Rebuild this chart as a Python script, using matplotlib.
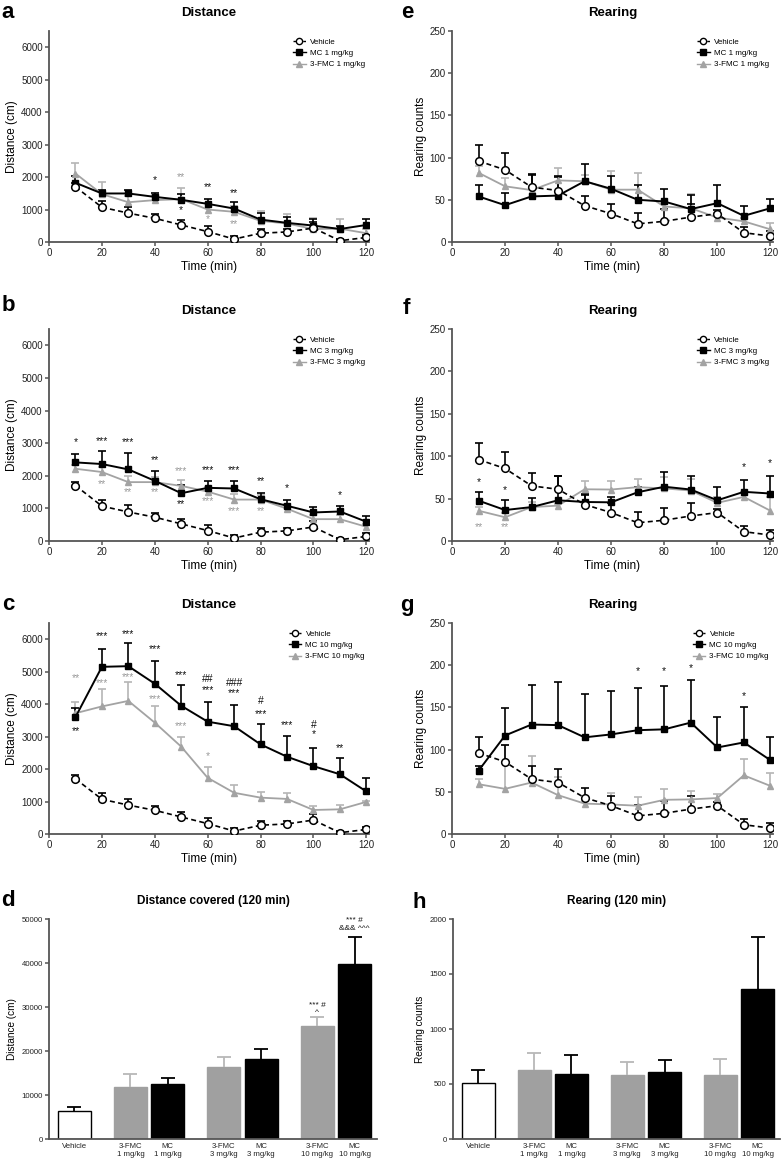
import numpy as np
import matplotlib
matplotlib.use("Agg")
import matplotlib.pyplot as plt
from matplotlib.lines import Line2D

plt.rcParams['font.family'] = ['Liberation Sans', 'DejaVu Sans']

# ---------------- data ----------------
time = [10, 20, 30, 40, 50, 60, 70, 80, 90, 100, 110, 120]

veh_dist = [1700, 1070, 890, 730, 525, 320, 90, 270, 310, 430, 40, 140]
veh_dist_err = [120, 190, 200, 140, 145, 185, 85, 130, 90, 190, 60, 90]

mc1_dist = [1825, 1495, 1495, 1390, 1300, 1175, 1030, 690, 590, 505, 400, 525]
mc1_dist_err = [215, 100, 115, 115, 175, 155, 195, 195, 170, 205, 100, 175]
fmc1_dist = [2110, 1475, 1225, 1290, 1320, 1000, 930, 650, 570, 400, 410, 270]
fmc1_dist_err = [320, 380, 195, 150, 330, 195, 185, 320, 305, 330, 290, 130]

mc3_dist = [2410, 2360, 2195, 1845, 1465, 1630, 1610, 1280, 1080, 875, 905, 590]
mc3_dist_err = [260, 390, 505, 300, 265, 205, 225, 185, 180, 155, 175, 170]
fmc3_dist = [2215, 2115, 1805, 1805, 1690, 1515, 1270, 1270, 990, 670, 670, 435]
fmc3_dist_err = [125, 165, 195, 155, 185, 135, 175, 140, 135, 125, 125, 100]

mc10_dist = [3600, 5150, 5170, 4630, 3950, 3460, 3320, 2760, 2380, 2090, 1840, 1310]
mc10_dist_err = [280, 550, 700, 690, 630, 600, 650, 630, 630, 560, 490, 420]
fmc10_dist = [3720, 3930, 4100, 3430, 2690, 1730, 1270, 1120, 1080, 740, 760, 990]
fmc10_dist_err = [360, 530, 590, 500, 310, 320, 230, 160, 180, 130, 140, 20]

veh_rear = [96, 85.5, 65, 61, 43, 33.5, 21.5, 24.5, 29.5, 33.5, 11, 7]
veh_rear_err = [19, 20, 15, 16, 12, 11, 13, 15, 15, 4, 6.5, 5.5]

mc1_rear = [54, 43.6, 54, 55, 72, 63, 50, 48, 39, 46, 31, 40]
mc1_rear_err = [13, 14.4, 25, 23, 20, 15, 17, 15, 17, 22, 12, 11]
fmc1_rear = [82, 66, 61.5, 73, 72, 62, 62, 42, 40, 29, 24.5, 15]
fmc1_rear_err = [8, 10, 4.5, 15, 7, 22.5, 20, 7, 17, 5, 3.5, 7.5]

mc3_rear = [47.6, 36.5, 40, 48, 46, 45.6, 57.5, 64, 60.7, 48, 58, 56]
mc3_rear_err = [10.4, 12, 10.4, 29, 8, 6.4, 6.5, 17, 16.3, 16, 14, 21]
fmc3_rear = [35.7, 28, 40, 41.7, 61, 60.7, 63.5, 62, 59.5, 45, 52, 35.7]
fmc3_rear_err = [4.3, 4.5, 6, 2.3, 10, 10, 9.5, 13, 13.5, 7, 6, 16]

mc10_rear = [75, 116.7, 129.7, 129, 114.5, 118, 123, 124, 132, 102.5, 108.5, 87.5]
mc10_rear_err = [6, 33, 47, 51.6, 51, 52, 50.5, 51.5, 51, 36, 41.5, 28]
fmc10_rear = [59, 53.5, 61, 46, 36, 35, 33.5, 40.5, 41, 42.6, 69.5, 57]
fmc10_rear_err = [6, 52, 31, 22, 3, 13, 10.5, 12.5, 10.5, 4.5, 19, 15.5]

bar_labels = ["Vehicle", "3-FMC\n1 mg/kg", "MC\n1 mg/kg", "3-FMC\n3 mg/kg",
              "MC\n3 mg/kg", "3-FMC\n10 mg/kg", "MC\n10 mg/kg"]
bar_groups = ["veh", "fmc", "mc", "fmc", "mc", "fmc", "mc"]
dist_total = [6450, 11900, 12440, 16390, 18290, 25570, 39680]
dist_total_err = [900, 2800, 1360, 2200, 2120, 2130, 6300]
rear_total = [513, 628, 595, 586, 607, 580, 1366]
rear_total_err = [118, 158, 167, 112, 112, 145, 470]

# significance annotations: (time, y, text, group)
ann_a = [(40, 1900, "*", "mc"), (50, 2000, "**", "fmc"), (50, 980, "*", "mc"),
         (60, 1690, "**", "mc"), (60, 710, "*", "fmc"),
         (70, 1500, "**", "mc"), (70, 560, "**", "fmc")]
ann_b = [(10, 3040, "*", "mc"), (20, 3070, "***", "mc"), (30, 3020, "***", "mc"),
         (40, 2475, "**", "mc"), (50, 2155, "***", "fmc"), (50, 1135, "**", "mc"),
         (60, 2165, "***", "mc"), (60, 1225, "***", "fmc"),
         (70, 2165, "***", "mc"), (70, 920, "***", "fmc"),
         (80, 1845, "**", "mc"), (80, 920, "**", "fmc"),
         (90, 1620, "*", "mc"), (110, 1410, "*", "mc"),
         (20, 1740, "**", "fmc"), (30, 1505, "**", "fmc"), (40, 1505, "**", "fmc")]
ann_c = [(10, 4790, "**", "fmc"), (10, 3180, "**", "mc"),
         (20, 6090, "***", "mc"), (20, 4640, "***", "fmc"),
         (30, 6150, "***", "mc"), (30, 4840, "***", "fmc"),
         (40, 5690, "***", "mc"), (40, 4170, "***", "fmc"),
         (50, 4890, "***", "mc"), (50, 3330, "***", "fmc"),
         (60, 4760, "##", "mc"), (60, 4430, "***", "mc"), (60, 2410, "*", "fmc"),
         (70, 4660, "###", "mc"), (70, 4330, "***", "mc"),
         (80, 4100, "#", "mc"), (80, 3680, "***", "mc"),
         (90, 3370, "***", "mc"),
         (100, 3370, "#", "mc"), (100, 3070, "*", "mc"),
         (110, 2660, "**", "mc")]
ann_f = [(10, 70, "*", "mc"), (20, 60, "*", "mc"), (10, 17, "**", "fmc"),
         (20, 16, "**", "fmc"), (110, 87, "*", "mc"), (120, 92, "*", "mc")]
ann_g = [(70, 193, "*", "mc"), (80, 193, "*", "mc"), (90, 196, "*", "mc"),
         (110, 164, "*", "mc")]
ann_d = [(5, 30400, "*** #"), (5, 28700, "^"), (6, 49600, "*** #"), (6, 47900, "&&& ^^^")]

GRAY = '#a3a3a3'
GRAY_ERR = '#b5b5b5'
SPINE = '#555555'
ann_col = {"mc": "#111111", "fmc": "#9a9a9a"}

W, H = 784, 1162
fig = plt.figure(figsize=(W / 100, H / 100), dpi=100)


def rect(l, r, b, t):
    return [l / W, 1 - b / H, (r - l) / W, (b - t) / H]


def style(ax, tick_fs=7):
    for s in ['top', 'right']:
        ax.spines[s].set_visible(False)
    for s in ['left', 'bottom']:
        ax.spines[s].set_color(SPINE)
        ax.spines[s].set_linewidth(1.3)
    ax.tick_params(direction='out', length=3, width=1.1, color=SPINE,
                   labelsize=tick_fs, pad=1.5, labelcolor='#222222')


def upper_err(ax, x, y, e, color, lw=1.2, cap=3.0):
    eb = ax.errorbar(x, y, yerr=[np.zeros(len(e)), e], fmt='none', ecolor=color,
                     elinewidth=lw, capsize=cap, capthick=lw, zorder=2)
    eb[1][0].set_visible(False)
    return eb


def line_panel(ax, mc, mce, fmc, fmce, veh, vehe, ylim, yticks, ylabel, dose,
               title, letter, ann):
    upper_err(ax, time, fmc, fmce, GRAY_ERR)
    upper_err(ax, time, mc, mce, 'black')
    upper_err(ax, time, veh, vehe, 'black')
    ax.plot(time, fmc, color=GRAY, lw=1.3, marker='^', ms=5.0, mfc=GRAY,
            mec=GRAY, zorder=3)
    ax.plot(time, mc, color='black', lw=1.4, marker='s', ms=5, zorder=4)
    ax.plot(time, veh, color='black', lw=1.2, ls=(0, (3, 2)), marker='o', ms=5.5,
            mfc='white', mec='black', mew=1.1, zorder=5)
    ax.set_xlim(0, 121)
    ax.set_ylim(*ylim)
    ax.set_xticks([0, 20, 40, 60, 80, 100, 120])
    ax.set_yticks(yticks)
    ax.set_xlabel("Time (min)", fontsize=8.5, labelpad=2)
    ax.set_ylabel(ylabel, fontsize=8.5, labelpad=2)
    ax.set_title(title, fontsize=9.5, fontweight='bold', pad=11)
    style(ax)
    handles = [
        Line2D([], [], color='black', ls=(0, (2, 1.5)), lw=1.0, marker='o', ms=4.5,
               mfc='white', mec='black'),
        Line2D([], [], color='black', lw=1.0, marker='s', ms=4.2),
        Line2D([], [], color=GRAY, lw=1.0, marker='^', ms=4.5, mec=GRAY, mfc=GRAY),
    ]
    ax.legend(handles, ["Vehicle", f"MC {dose} mg/kg", f"3-FMC {dose} mg/kg"],
              loc='upper right', fontsize=5.8, frameon=False, handlelength=1.6,
              handletextpad=0.5, labelspacing=0.45, borderaxespad=0.1,
              bbox_to_anchor=(1.0, 0.985))
    for (t, yv, txt, g) in ann:
        ax.text(t, yv, txt, color=ann_col[g], fontsize=7.5, ha='center',
                va='center', zorder=6)
    return ax


panels_left = [
    (rect(49, 369, 242, 31), mc1_dist, mc1_dist_err, fmc1_dist, fmc1_dist_err, 1, 'a', ann_a, (8, 12)),
    (rect(49, 369, 541, 329), mc3_dist, mc3_dist_err, fmc3_dist, fmc3_dist_err, 3, 'b', ann_b, (8, 305)),
    (rect(49, 369, 834, 623), mc10_dist, mc10_dist_err, fmc10_dist, fmc10_dist_err, 10, 'c', ann_c, (8, 605)),
]
for (r, mc, mce, fm, fme, dose, letter, ann, lp) in panels_left:
    ax = fig.add_axes(r)
    line_panel(ax, mc, mce, fm, fme, veh_dist, veh_dist_err, (0, 6500),
               [0, 1000, 2000, 3000, 4000, 5000, 6000], "Distance (cm)", dose,
               "Distance", letter, ann)
    fig.text(lp[0] / W, 1 - lp[1] / H, letter, fontsize=16, fontweight='bold',
             ha='center', va='center')

panels_right = [
    (rect(452, 773, 242, 31), mc1_rear, mc1_rear_err, fmc1_rear, fmc1_rear_err, 1, 'e', [], (407, 12)),
    (rect(452, 773, 541, 329), mc3_rear, mc3_rear_err, fmc3_rear, fmc3_rear_err, 3, 'f', ann_f, (406, 308)),
    (rect(452, 773, 834, 623), mc10_rear, mc10_rear_err, fmc10_rear, fmc10_rear_err, 10, 'g', ann_g, (407, 605)),
]
for (r, mc, mce, fm, fme, dose, letter, ann, lp) in panels_right:
    ax = fig.add_axes(r)
    line_panel(ax, mc, mce, fm, fme, veh_rear, veh_rear_err, (0, 250),
               [0, 50, 100, 150, 200, 250], "Rearing counts", dose,
               "Rearing", letter, ann)
    fig.text(lp[0] / W, 1 - lp[1] / H, letter, fontsize=16, fontweight='bold',
             ha='center', va='center')

# bar panels
bar_pos = [0, 1.5, 2.5, 4, 5, 6.5, 7.5]
face = {"veh": "white", "fmc": "#a0a0a0", "mc": "black"}
errc = {"veh": "black", "fmc": "#b8b8b8", "mc": "black"}


def bar_panel(ax, vals, errs, ylim, yticks, ylabel, title):
    for p, v, e, g in zip(bar_pos, vals, errs, bar_groups):
        ax.bar(p, v, width=0.88, color=face[g], edgecolor='black' if g == 'veh' else face[g],
               linewidth=1.0, zorder=2)
        upper_err(ax, [p], [v], [e], errc[g], lw=1.3, cap=5)
    ax.set_xlim(-0.68, 8.1)
    ax.set_ylim(*ylim)
    ax.set_yticks(yticks)
    ax.set_xticks(bar_pos)
    ax.set_xticklabels(bar_labels, fontsize=5.6, linespacing=1.1)
    ax.set_ylabel(ylabel, fontsize=7.2, labelpad=3)
    ax.set_title(title, fontsize=8.5, fontweight='bold', pad=11)
    style(ax, tick_fs=5.6)
    ax.tick_params(axis='x', length=0, pad=3)


axd = fig.add_axes(rect(49, 377, 1139, 919))
bar_panel(axd, dist_total, dist_total_err, (0, 50000),
          [0, 10000, 20000, 30000, 40000, 50000], "Distance (cm)",
          "Distance covered (120 min)")
for (i, yv, txt) in ann_d:
    axd.text(bar_pos[i], yv, txt, fontsize=6, ha='center', va='center', color='#111111')
fig.text(8 / W, 1 - 900 / H, 'd', fontsize=16, fontweight='bold', ha='center', va='center')

axh = fig.add_axes(rect(453, 780, 1139, 919))
bar_panel(axh, rear_total, rear_total_err, (0, 2000),
          [0, 500, 1000, 1500, 2000], "Rearing counts", "Rearing (120 min)")
fig.text(419 / W, 1 - 902 / H, 'h', fontsize=16, fontweight='bold', ha='center', va='center')

fig.savefig("out.png", dpi=100)
